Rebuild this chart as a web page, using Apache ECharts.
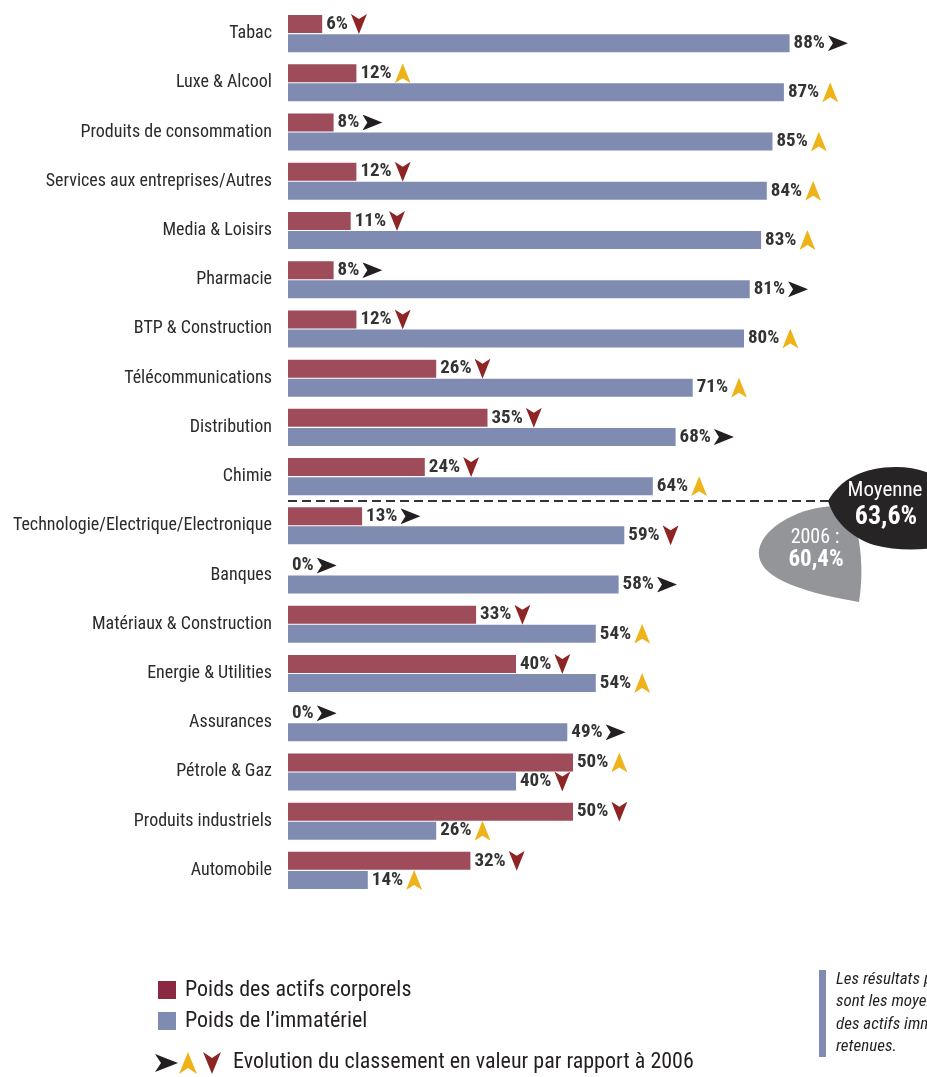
<!DOCTYPE html>
<html>
<head>
<meta charset="utf-8">
<script src="https://cdn.jsdelivr.net/npm/echarts@6/dist/echarts.min.js"></script>
<style>html,body{margin:0;padding:0;background:#fff;}#main{width:927px;height:1077px;}</style>
</head>
<body>
<div id="main"></div>
<script>
const categories = ['Tabac','Luxe & Alcool','Produits de consommation','Services aux entreprises/Autres','Media & Loisirs','Pharmacie','BTP & Construction','Télécommunications','Distribution','Chimie','Technologie/Electrique/Electronique','Banques','Matériaux & Construction','Energie & Utilities','Assurances','Pétrole & Gaz','Produits industriels','Automobile'];
const corporels = [6,12,8,12,11,8,12,26,35,24,13,0,33,40,0,50,50,32];
const immateriel = [88,87,85,84,83,81,80,71,68,64,59,58,54,54,49,40,26,14];
const evolCorporels = ['down','up','right','down','down','right','down','down','down','down','right','right','down','down','right','up','down','down'];
const evolImmateriel = ['right','up','up','up','up','right','up','up','right','up','down','right','up','up','right','down','up','up'];
const seriesNames = ['Poids des actifs corporels', "Poids de l’immatériel"];
const moyenne = '63,6%';
const moyenne2006 = '60,4%';

const FONT = '"Roboto Condensed", "Liberation Sans", Arial, sans-serif';
const RED = '#9E4B5A', BLUE = '#7F8BB0';
const C_BLACK = '#231F20', C_YEL = '#EFB31A', C_DRED = '#8E2424';

function svgURI(svg){ return 'data:image/svg+xml;charset=utf-8,' + encodeURIComponent(svg); }
const arrowImg = {
  right: svgURI('<svg xmlns="http://www.w3.org/2000/svg" width="20" height="16" viewBox="0 0 20 16"><path d="M0,0 L20,8 L0,16 L5,8 Z" fill="'+C_BLACK+'"/></svg>'),
  up: svgURI('<svg xmlns="http://www.w3.org/2000/svg" width="16" height="20" viewBox="0 0 16 20"><path d="M8,0 L16,20 L8,15 L0,20 Z" fill="'+C_YEL+'"/></svg>'),
  down: svgURI('<svg xmlns="http://www.w3.org/2000/svg" width="16" height="20" viewBox="0 0 16 20"><path d="M0,0 L8,5 L16,0 L8,20 Z" fill="'+C_DRED+'"/></svg>')
};
const rich = {
  v: {fontFamily: FONT, fontSize: 19, fontWeight: 'bold', color: '#333333'},
  g: {width: 3},
  right: {width: 20, height: 16, backgroundColor: {image: arrowImg.right}},
  up: {width: 16, height: 20, backgroundColor: {image: arrowImg.up}},
  down: {width: 16, height: 20, backgroundColor: {image: arrowImg.down}}
};
function makeLabel(evol){
  return {
    show: true, position: 'right', distance: 4,
    formatter: p => '{v|' + p.value + '%}' + (evol[p.dataIndex] ? '{g|}{' + evol[p.dataIndex] + '|}' : ''),
    rich: rich
  };
}

const chart = echarts.init(document.getElementById('main'), null, {renderer: 'canvas'});
chart.setOption({
  animation: false,
  backgroundColor: '#ffffff',
  grid: {left: 288, top: 9, width: 570, height: 886, containLabel: false, outerBoundsMode: 'none'},
  xAxis: {type: 'value', min: 0, max: 100, show: false},
  yAxis: {
    type: 'category', data: categories, inverse: true,
    axisLine: {show: false}, axisTick: {show: false}, splitLine: {show: false},
    axisLabel: {margin: 16, fontFamily: FONT, fontSize: 18, color: '#2b2b2b'}
  },
  legend: {
    orient: 'vertical', left: 158, top: 979, padding: 0, itemWidth: 18, itemHeight: 18, itemGap: 9,
    icon: 'rect', selectedMode: false,
    textStyle: {fontFamily: FONT, fontSize: 22, color: '#231F20', padding: [0,0,0,4]},
    data: [{name: seriesNames[0], itemStyle: {color: '#8B2942'}}, {name: seriesNames[1], itemStyle: {color: BLUE}}]
  },
  series: [
    {name: seriesNames[0], type: 'bar', data: corporels, barWidth: 18, barGap: '6%', itemStyle: {color: RED}, label: makeLabel(evolCorporels)},
    {name: seriesNames[1], type: 'bar', data: immateriel, barWidth: 18, barGap: '6%', itemStyle: {color: BLUE}, label: makeLabel(evolImmateriel)}
  ]
});

// separator between categories above and below the average
const iA = categories.indexOf('Chimie'), iB = categories.indexOf('Technologie/Electrique/Electronique');
const yA = chart.convertToPixel({yAxisIndex: 0}, iA);
const yB = chart.convertToPixel({yAxisIndex: 0}, iB);
const lineY = Math.round((yA + yB) / 2);
const x0 = chart.convertToPixel({xAxisIndex: 0}, 0);

// blob shapes (local coordinates)
const grayBlob = svgURI('<svg xmlns="http://www.w3.org/2000/svg" width="110" height="100" viewBox="0 0 110 100"><path d="M80,2 C45,2 6,22 2,46 C-1,70 32,86 102,98 C106,72 106,40 94,6 Z" fill="#939598"/></svg>');
const blackBlob = svgURI('<svg xmlns="http://www.w3.org/2000/svg" width="120" height="90" viewBox="0 0 120 90"><path d="M0,36 C12,14 36,2 68,2 C88,2 108,8 120,20 L120,80 C96,86 70,86 46,80 C22,72 6,56 0,36 Z" fill="#262425"/></svg>');
const legArrows = svgURI('<svg xmlns="http://www.w3.org/2000/svg" width="68" height="22" viewBox="0 0 68 22"><path d="M0,2 L23,11 L0,20 L6,11 Z" fill="'+C_BLACK+'"/><path d="M33,0 L42,22 L33,16 L24,22 Z" fill="'+C_YEL+'"/><path d="M48,0 L57,6 L66,0 L57,22 Z" fill="'+C_DRED+'"/></svg>');

chart.setOption({
  graphic: [
    {type: 'line', shape: {x1: x0, y1: lineY, x2: 840, y2: lineY}, style: {stroke: '#333333', lineWidth: 2, lineDash: [9, 5]}, z: 10},
    {type: 'image', z: 11, style: {image: grayBlob, x: 757, y: lineY + 3, width: 110, height: 100}},
    {type: 'text', z: 12, style: {text: '2006 :', x: 815, y: lineY + 37, align: 'center', verticalAlign: 'middle', fill: '#ffffff', font: '20px ' + FONT}},
    {type: 'text', z: 12, style: {text: moyenne2006, x: 816, y: lineY + 59, align: 'center', verticalAlign: 'middle', fill: '#ffffff', font: 'bold 23px ' + FONT}},
    {type: 'image', z: 13, style: {image: blackBlob, x: 828, y: lineY - 36, width: 120, height: 90}},
    {type: 'text', z: 14, style: {text: 'Moyenne', x: 885, y: lineY - 10, align: 'center', verticalAlign: 'middle', fill: '#ffffff', font: '21px ' + FONT}},
    {type: 'text', z: 14, style: {text: moyenne, x: 886, y: lineY + 16, align: 'center', verticalAlign: 'middle', fill: '#ffffff', font: 'bold 26px ' + FONT}},
    // evolution legend
    {type: 'image', style: {image: legArrows, x: 155, y: 1052, width: 68, height: 22}},
    {type: 'text', style: {text: 'Evolution du classement en valeur par rapport à 2006', x: 233, y: 1062, verticalAlign: 'middle', fill: '#231F20', font: '22px ' + FONT}},
    // note
    {type: 'rect', shape: {x: 819, y: 970, width: 7, height: 87}, style: {fill: BLUE}},
    {type: 'text', style: {text: 'Les résultats présentés\nsont les moyennes\ndes actifs immatériels\nretenues.', x: 836, y: 968, lineHeight: 22.5, verticalAlign: 'top', fill: '#231F20', font: 'italic 17px ' + FONT}}
  ]
});
</script>
</body>
</html>
